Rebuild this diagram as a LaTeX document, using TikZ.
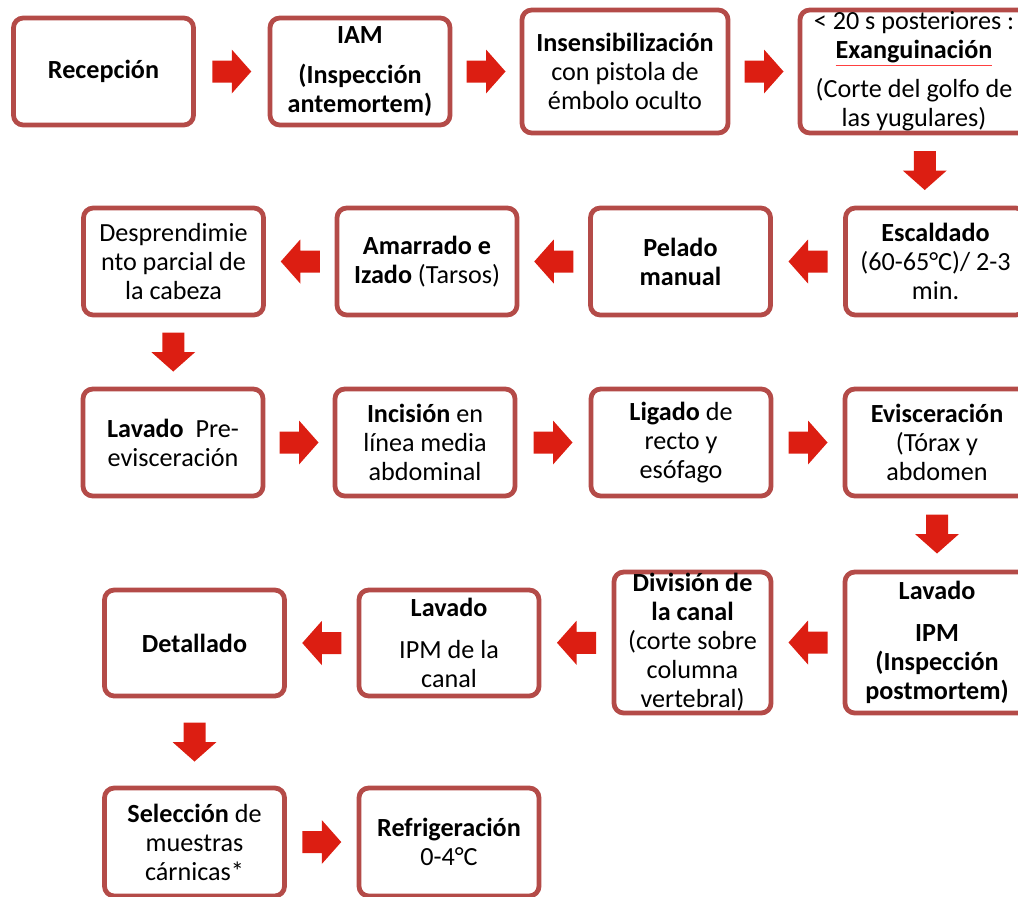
\documentclass[tikz,border=0pt]{standalone}
\usepackage{fontspec}
\setmainfont{Carlito}
\usepackage{tikz}
\usetikzlibrary{calc,positioning}
\definecolor{borde}{HTML}{B44B48}
\definecolor{rojo}{HTML}{DC1E12}
\tikzset{
paso/.style={draw=borde,line width=3.4pt,rounded corners=7pt,fill=white,align=center,
  inner sep=0pt,minimum width=4.5cm,minimum height=2.675cm,font=\fontsize{18.6}{20.6}\selectfont},
pics/flecha/.style={code={\fill[rojo] (-19.5,-11) -- (0,-11) -- (0,-22) -- (19.5,0) -- (0,22) -- (0,11) -- (-19.5,11) -- cycle;}}
}
\newcommand{\subrojo}[1]{{\color{red!75}\underline{\color{black}#1}}}

\begin{document}
\begin{tikzpicture}[x=0.025cm,y=-0.025cm]
\useasboundingbox (0,0) rectangle (1018,896);
\clip (0,0) rectangle (1018,896);
% fila 1
\node[paso] (Rec) at (103.5,71.5) {\textbf{Recepción}};
\node[paso] (IAM) at (360,71.5) {\textbf{IAM}\\[8pt]\textbf{(Inspección}\\\textbf{antemortem)}};
\node[paso,minimum width=5.15cm,minimum height=3.075cm] (Ins) at (625,71.5) {\textbf{Insensibilización}\\con pistola de\\émbolo oculto};
\node[paso,minimum width=5.7cm,minimum height=3.075cm] (Exa) at (914,71.5) {< 20 s posteriores :\\\textbf{\subrojo{Exanguinación}}\\[7pt](Corte del golfo de\\las yugulares)};
% fila 2
\node[paso] (Esc) at (935.5,261.5) {\textbf{Escaldado}\\(60-65°C)/ 2-3\\min.};
\node[paso] (Pel) at (680.5,261.5) {\textbf{Pelado}\\\textbf{manual}};
\node[paso] (Ama) at (427,261.5) {\textbf{Amarrado e}\\\textbf{Izado} (Tarsos)};
\node[paso] (Des) at (173.5,261.5) {Desprendimie\\nto parcial de\\la cabeza};
% fila 3
\node[paso] (Lav) at (173,442.5) {\textbf{Lavado}\ \ Pre-\\evisceración};
\node[paso] (Inc) at (425,442.5) {\textbf{Incisión} en\\línea media\\abdominal};
\node[paso] (Lig) at (681,442.5) {\textbf{Ligado} de\\recto y\\esófago};
\node[paso,minimum width=4.6cm] (Evi) at (937,442.5) {\textbf{Evisceración}\\(Tórax y\\abdomen};
% fila 4
\node[paso,minimum width=4.6cm,minimum height=3.525cm] (LPM) at (937,642.5) {\textbf{Lavado}\\[9pt]\textbf{IPM}\\\textbf{(Inspección}\\\textbf{postmortem)}};
\node[paso,minimum width=3.925cm,minimum height=3.525cm] (Div) at (692.5,642.5) {\textbf{División de}\\\textbf{la canal}\\(corte sobre\\columna\\vertebral)};
\node[paso,minimum height=2.65cm] (LCa) at (449,643) {\textbf{Lavado}\\[9pt]IPM de la\\canal};
\node[paso,minimum height=2.65cm] (Det) at (194.5,643) {\textbf{Detallado}};
% fila 5
\node[paso,minimum height=2.7cm] (Sel) at (194.5,842) {\textbf{Selección} de\\muestras\\cárnicas*};
\node[paso,minimum height=2.7cm] (Ref) at (449,842) {\textbf{Refrigeración}\\0-4°C};
% flechas
\pic at ($(Rec.east)!.5!(IAM.west)$) {flecha};
\pic at ($(IAM.east)!.5!(Ins.west)$) {flecha};
\pic at ($(Ins.east)!.5!(Exa.west)$) {flecha};
\pic[rotate=-90] at ($(Exa.south)!.5!(Esc.north)$) {flecha};
\pic[rotate=180] at ($(Esc.west)!.5!(Pel.east)$) {flecha};
\pic[rotate=180] at ($(Pel.west)!.5!(Ama.east)$) {flecha};
\pic[rotate=180] at ($(Ama.west)!.5!(Des.east)$) {flecha};
\pic[rotate=-90] at ($(Des.south)!.5!(Lav.north)$) {flecha};
\pic at ($(Lav.east)!.5!(Inc.west)$) {flecha};
\pic at ($(Inc.east)!.5!(Lig.west)$) {flecha};
\pic at ($(Lig.east)!.5!(Evi.west)$) {flecha};
\pic[rotate=-90] at ($(Evi.south)!.5!(LPM.north)$) {flecha};
\pic[rotate=180] at ($(LPM.west)!.5!(Div.east)$) {flecha};
\pic[rotate=180] at ($(Div.west)!.5!(LCa.east)$) {flecha};
\pic[rotate=180] at ($(LCa.west)!.5!(Det.east)$) {flecha};
\pic[rotate=-90] at ($(Det.south)!.5!(Sel.north)$) {flecha};
\pic at ($(Sel.east)!.5!(Ref.west)$) {flecha};
\end{tikzpicture}
\end{document}
